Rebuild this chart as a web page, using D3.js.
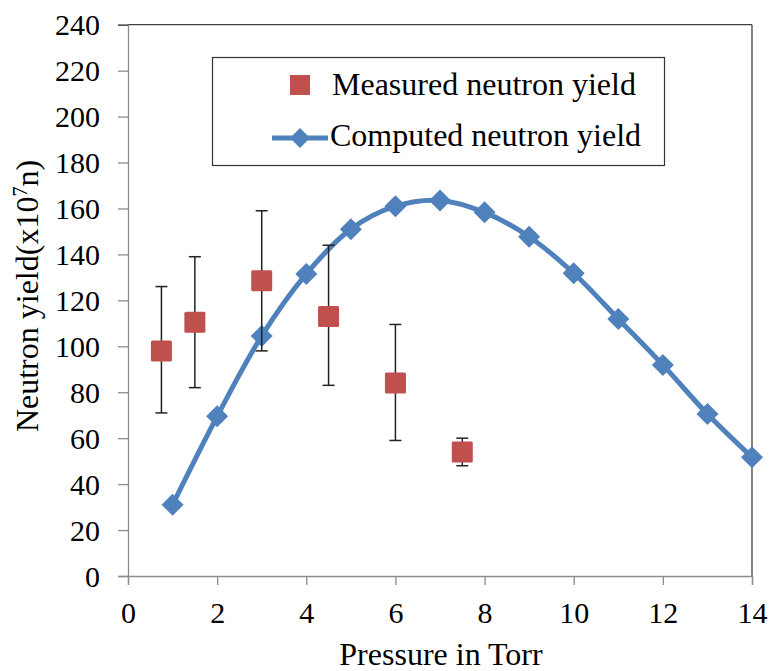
<!DOCTYPE html>
<html>
<head>
<meta charset="utf-8">
<script src="https://cdn.jsdelivr.net/npm/d3@7"></script>
<style>
  body { margin: 0; background: #fff; }
  svg text { font-family: "Liberation Serif", "Times New Roman", serif !important; fill: #000; }
</style>
</head>
<body>
<div id="chart"></div>
<script>
// measured points with error bars
var measuredX = [0.75, 1.5, 3, 4.5, 6, 7.5];
var measuredY = [98, 110.5, 128.5, 113, 84, 54];
var measuredHi = [126, 139, 159, 144, 109.5, 60];
var measuredLo = [71, 82, 98, 83, 59, 48];

// computed curve
var computedX = [1, 2, 3, 4, 5, 6, 7, 8, 9, 10, 11, 12, 13, 14];
var computedY = [31, 69.5, 104.5, 131.5, 151, 161, 163.5, 158.3, 147.7, 131.8, 111.9, 91.9, 70.5, 51.7];

var xTicks = [0, 2, 4, 6, 8, 10, 12, 14];
var yTicks = [0, 20, 40, 60, 80, 100, 120, 140, 160, 180, 200, 220, 240];

var width = 769, height = 671;
var margin = { top: 24.7, right: 17, bottom: 95, left: 128 };

var svg = d3.select("#chart").append("svg")
  .attr("width", width)
  .attr("height", height);

var x = d3.scaleLinear().domain([0, 14]).range([margin.left, width - margin.right]);
var y = d3.scaleLinear().domain([0, 240]).range([height - margin.bottom, margin.top]);

// plot border (top / right)
svg.append("line")
  .attr("x1", x(0)).attr("x2", x(14))
  .attr("y1", y(240)).attr("y2", y(240))
  .style("stroke", "#404040").style("stroke-width", 1.3);
svg.append("line")
  .attr("x1", x(14)).attr("x2", x(14))
  .attr("y1", y(240)).attr("y2", y(0))
  .style("stroke", "#404040").style("stroke-width", 1.3);

// axes
var xAxis = svg.append("g")
  .attr("transform", "translate(0," + y(0) + ")")
  .call(d3.axisBottom(x).tickValues(xTicks).tickSize(9).tickPadding(14).tickFormat(d3.format("d")));
var yAxis = svg.append("g")
  .attr("transform", "translate(" + x(0) + ",0)")
  .call(d3.axisLeft(y).tickValues(yTicks).tickSize(10).tickPadding(18).tickFormat(d3.format("d")));

[xAxis, yAxis].forEach(function (a) {
  a.attr("font-family", "Liberation Serif").attr("font-size", 30);
  a.select(".domain").style("stroke", "#8c8c8c").style("stroke-width", 1.3);
  a.selectAll(".tick line").style("stroke", "#8c8c8c").style("stroke-width", 1.3);
  a.selectAll(".tick text").style("fill", "#000");
});
yAxis.selectAll(".tick text").attr("dy", "0.34em");
xAxis.selectAll(".tick text").attr("dy", "0.8em");
// top tick of y-axis drawn dark (meets border)
yAxis.selectAll(".tick line").filter(function (d) { return d === 240; }).style("stroke", "#404040");

// axis titles
svg.append("text")
  .attr("x", 441)
  .attr("y", 665)
  .attr("text-anchor", "middle")
  .style("font-size", "32px")
  .text("Pressure in Torr");

var yl = svg.append("text")
  .attr("transform", "translate(38," + 296 + ") rotate(-90)")
  .attr("text-anchor", "middle")
  .style("font-size", "32px");
yl.append("tspan").text("Neutron yield(x10");
yl.append("tspan").attr("dy", -11).style("font-size", "20px").text("7");
yl.append("tspan").attr("dy", 11).text("n)");

// computed curve
var blue = "#4F81BD", red = "#C0504D";
var line = d3.line()
  .x(function (d, i) { return x(computedX[i]); })
  .y(function (d) { return y(d); })
  .curve(d3.curveCatmullRom.alpha(0.5));

svg.append("path")
  .datum(computedY)
  .attr("d", line)
  .style("fill", "none")
  .style("stroke", blue)
  .style("stroke-width", 5);

svg.selectAll(".diamond")
  .data(computedY)
  .enter().append("path")
  .attr("class", "diamond")
  .attr("transform", function (d, i) { return "translate(" + x(computedX[i]) + "," + y(d) + ")"; })
  .attr("d", "M0,-11L11,0L0,11L-11,0Z")
  .style("fill", blue);

// error bars
var eb = svg.selectAll(".err")
  .data(measuredX)
  .enter().append("g")
  .attr("class", "err")
  .style("stroke", "#222")
  .style("stroke-width", 1.5);
eb.append("line")
  .attr("x1", function (d) { return x(d); }).attr("x2", function (d) { return x(d); })
  .attr("y1", function (d, i) { return y(measuredHi[i]); })
  .attr("y2", function (d, i) { return y(measuredLo[i]); });
eb.append("line")
  .attr("x1", function (d) { return x(d) - 6; }).attr("x2", function (d) { return x(d) + 6; })
  .attr("y1", function (d, i) { return y(measuredHi[i]); })
  .attr("y2", function (d, i) { return y(measuredHi[i]); });
eb.append("line")
  .attr("x1", function (d) { return x(d) - 6; }).attr("x2", function (d) { return x(d) + 6; })
  .attr("y1", function (d, i) { return y(measuredLo[i]); })
  .attr("y2", function (d, i) { return y(measuredLo[i]); });

// measured squares
svg.selectAll(".sq")
  .data(measuredY)
  .enter().append("rect")
  .attr("class", "sq")
  .attr("x", function (d, i) { return x(measuredX[i]) - 10.5; })
  .attr("y", function (d) { return y(d) - 10.5; })
  .attr("width", 21)
  .attr("height", 21)
  .attr("rx", 1.5)
  .style("fill", red);

// legend
var lg = svg.append("g");
lg.append("rect")
  .attr("x", 212.5).attr("y", 57.5)
  .attr("width", 452).attr("height", 108)
  .style("fill", "#fff")
  .style("stroke", "#333")
  .style("stroke-width", 1.2);
lg.append("rect")
  .attr("x", 290).attr("y", 75)
  .attr("width", 20).attr("height", 20)
  .style("fill", red);
lg.append("text").attr("x", 332).attr("y", 95).style("font-size", "32px").text("Measured neutron yield");
lg.append("line")
  .attr("x1", 272).attr("x2", 328).attr("y1", 138).attr("y2", 138)
  .style("stroke", blue).style("stroke-width", 5);
lg.append("path")
  .attr("transform", "translate(300,138)")
  .attr("d", "M0,-10L10,0L0,10L-10,0Z")
  .style("fill", blue);
lg.append("text").attr("x", 330).attr("y", 146).style("font-size", "32px").text("Computed neutron yield");
</script>
</body>
</html>
